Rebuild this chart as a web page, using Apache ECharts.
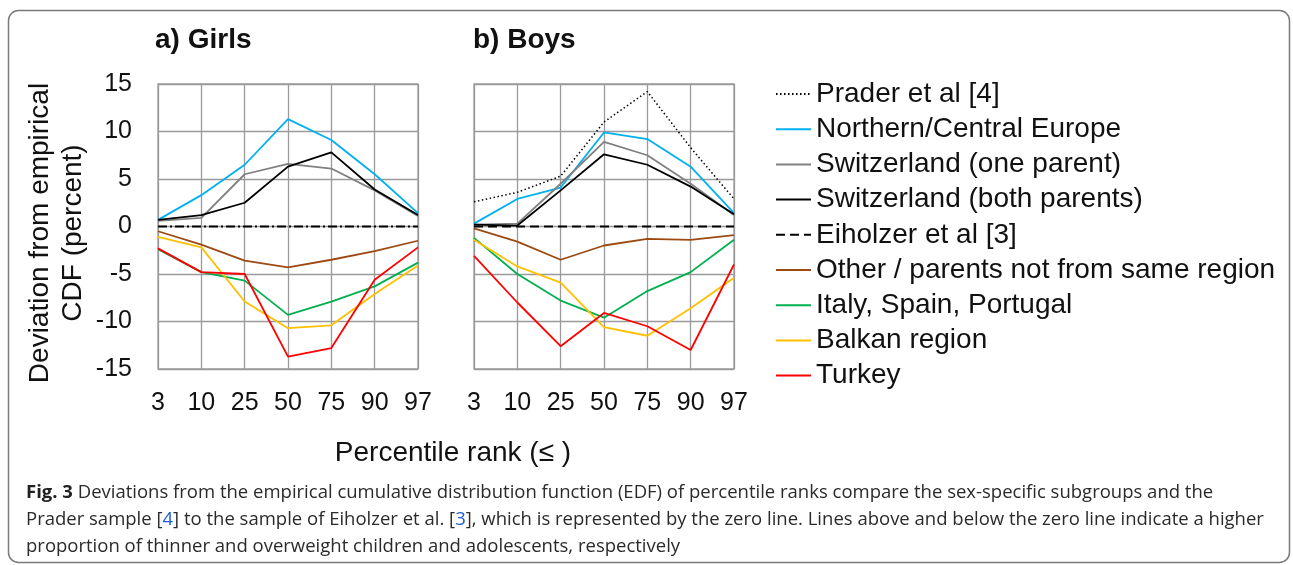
<!DOCTYPE html>
<html>
<head>
<meta charset="utf-8">
<style>
  html, body { margin: 0; padding: 0; background: #fff; }
  #chart { width: 1293px; height: 565px; }
</style>
<script src="https://cdn.jsdelivr.net/npm/echarts@6/dist/echarts.min.js"></script>
</head>
<body>
<div id="chart"></div>
<script>
// percentile ranks (x axis)
const ranks = ['3', '10', '25', '50', '75', '90', '97'];

// a) Girls
const girlsNorth = [0.7, 3.3, 6.5, 11.3, 9.1, 5.5, 1.4];
const girlsSwissOne = [0.6, 0.9, 5.5, 6.6, 6.1, 3.8, 1.1];
const girlsSwissBoth = [0.7, 1.2, 2.5, 6.3, 7.8, 3.9, 1.2];
const girlsEiholzer = [0, 0, 0, 0, 0, 0, 0];
const girlsOther = [-0.5, -1.9, -3.6, -4.3, -3.5, -2.6, -1.5];
const girlsItaly = [-2.4, -4.8, -5.7, -9.3, -7.9, -6.3, -3.8];
const girlsBalkan = [-1.1, -2.2, -7.9, -10.7, -10.4, -7.1, -4.1];
const girlsTurkey = [-2.3, -4.8, -5.0, -13.7, -12.8, -5.6, -2.2];

// b) Boys
const boysPrader = [2.6, 3.6, 5.3, 11.0, 14.2, 8.3, 2.9];
const boysNorth = [0.3, 2.9, 4.1, 9.9, 9.2, 6.3, 1.4];
const boysSwissOne = [0.2, 0.3, 4.5, 8.9, 7.5, 4.5, 1.2];
const boysSwissBoth = [0.2, 0.1, 3.8, 7.6, 6.5, 4.2, 1.3];
const boysEiholzer = [0, 0, 0, 0, 0, 0, 0];
const boysOther = [-0.2, -1.6, -3.5, -2.0, -1.3, -1.4, -0.9];
const boysItaly = [-1.2, -5.0, -7.8, -9.6, -6.8, -4.8, -1.4];
const boysBalkan = [-1.4, -4.2, -5.9, -10.6, -11.5, -8.6, -5.4];
const boysTurkey = [-3.1, -8.0, -12.6, -9.1, -10.5, -13.0, -4.0];

const yTicks = [-15, -10, -5, 0, 5, 10, 15];

const FONT = 'Liberation Sans, Arial, sans-serif';
const CAP = '18.5px Open Sans';

const names = {
  prader: 'Prader et al [4]',
  north: 'Northern/Central Europe',
  swissOne: 'Switzerland (one parent)',
  swissBoth: 'Switzerland (both parents)',
  eiholzer: 'Eiholzer et al [3]',
  other: 'Other / parents not from same region',
  italy: 'Italy, Spain, Portugal',
  balkan: 'Balkan region',
  turkey: 'Turkey'
};

const colors = {
  prader: '#000000',
  north: '#00b0f0',
  swissOne: '#808080',
  swissBoth: '#000000',
  eiholzer: '#000000',
  other: '#9c4a12',
  italy: '#00b050',
  balkan: '#ffc000',
  turkey: '#ff0000'
};

function line(key, data, idx, type) {
  return {
    name: names[key],
    type: 'line',
    xAxisIndex: idx,
    yAxisIndex: idx,
    data: data,
    symbol: 'none',
    animation: false,
    color: colors[key],
    lineStyle: { color: colors[key], width: key === 'prader' ? 1.5 : 1.8, type: type || 'solid' }
  };
}

// boys first so legend icons take the boys line styles
const series = [
  line('prader', boysPrader, 1, [1.5, 2.5]),
  line('north', boysNorth, 1),
  line('swissOne', boysSwissOne, 1),
  line('swissBoth', boysSwissBoth, 1),
  line('eiholzer', boysEiholzer, 1, [9, 5]),
  line('other', boysOther, 1),
  line('italy', boysItaly, 1),
  line('balkan', boysBalkan, 1),
  line('turkey', boysTurkey, 1),
  line('north', girlsNorth, 0),
  line('swissOne', girlsSwissOne, 0),
  line('swissBoth', girlsSwissBoth, 0),
  line('eiholzer', girlsEiholzer, 0, [9, 3, 2, 3]),
  line('other', girlsOther, 0),
  line('italy', girlsItaly, 0),
  line('balkan', girlsBalkan, 0),
  line('turkey', girlsTurkey, 0)
];

const gridLine = { show: true, lineStyle: { color: '#9a9a9a', width: 1.3 } };

function xAx(idx) {
  return {
    type: 'category',
    gridIndex: idx,
    data: ranks,
    boundaryGap: false,
    axisLine: { show: false },
    axisTick: { show: false },
    splitLine: gridLine,
    axisLabel: { fontSize: 25, color: '#111', fontFamily: FONT, margin: 22, interval: 0 }
  };
}

function yAx(idx) {
  return {
    type: 'value',
    gridIndex: idx,
    min: yTicks[0],
    max: yTicks[yTicks.length - 1],
    interval: 5,
    axisLine: { show: false },
    axisTick: { show: false },
    splitLine: gridLine,
    axisLabel: { show: idx === 0, fontSize: 25, color: '#111', fontFamily: FONT, margin: 26 }
  };
}

const chart = echarts.init(document.getElementById('chart'));

chart.setOption({
  backgroundColor: '#fff',
  textStyle: { fontFamily: FONT },
  grid: [
    { left: 158, top: 84, width: 260, height: 285, show: true, borderColor: '#9a9a9a', borderWidth: 1.3 },
    { left: 474, top: 84, width: 260, height: 285, show: true, borderColor: '#9a9a9a', borderWidth: 1.3 }
  ],
  xAxis: [xAx(0), xAx(1)],
  yAxis: [yAx(0), yAx(1)],
  legend: {
    orient: 'vertical',
    left: 770,
    top: 75,
    itemWidth: 35,
    itemHeight: 14,
    itemGap: 7.2,
    itemStyle: { opacity: 0 },
    data: Object.keys(names).map(k => names[k]),
    textStyle: { fontSize: 28, color: '#111', fontFamily: FONT }
  },
  graphic: [
    {
      type: 'rect',
      shape: { x: 8.5, y: 10.5, width: 1281, height: 552, r: 10 },
      style: { fill: 'none', stroke: '#7a7a7a', lineWidth: 1.5 },
      silent: true
    },
    {
      type: 'text', left: 155, top: 26,
      style: { text: 'a) Girls', font: 'bold 28px ' + FONT, fill: '#111' }
    },
    {
      type: 'text', left: 473, top: 26,
      style: { text: 'b) Boys', font: 'bold 28px ' + FONT, fill: '#111' }
    },
    {
      type: 'text', x: 57, y: 233, rotation: Math.PI / 2,
      style: {
        text: 'Deviation from empirical\nCDF (percent)',
        font: '28px ' + FONT, fill: '#111', align: 'center', verticalAlign: 'middle', lineHeight: 33
      }
    },
    {
      type: 'text', x: 453, y: 453,
      style: { text: 'Percentile rank (≤ )', font: '28px ' + FONT, fill: '#111', align: 'center', verticalAlign: 'middle' }
    },
    {
      type: 'text', x: 26, y: 493,
      style: {
        text: '{b|Fig. 3} Deviations from the empirical cumulative distribution function (EDF) of percentile ranks compare the sex-specific subgroups and the',
        font: CAP, fill: '#2a2a2a', verticalAlign: 'middle',
        rich: { b: { font: 'bold ' + CAP, fill: '#222' } }
      }
    },
    {
      type: 'text', x: 26, y: 520,
      style: {
        text: 'Prader sample [{l|4}] to the sample of Eiholzer et al. [{l|3}], which is represented by the zero line. Lines above and below the zero line indicate a higher',
        font: CAP, fill: '#2a2a2a', verticalAlign: 'middle',
        rich: { l: { font: CAP, fill: '#1a5fd1' } }
      }
    },
    {
      type: 'text', x: 26, y: 547,
      style: {
        text: 'proportion of thinner and overweight children and adolescents, respectively',
        font: CAP, fill: '#2a2a2a', verticalAlign: 'middle'
      }
    }
  ],
  series: series
});
</script>
</body>
</html>
